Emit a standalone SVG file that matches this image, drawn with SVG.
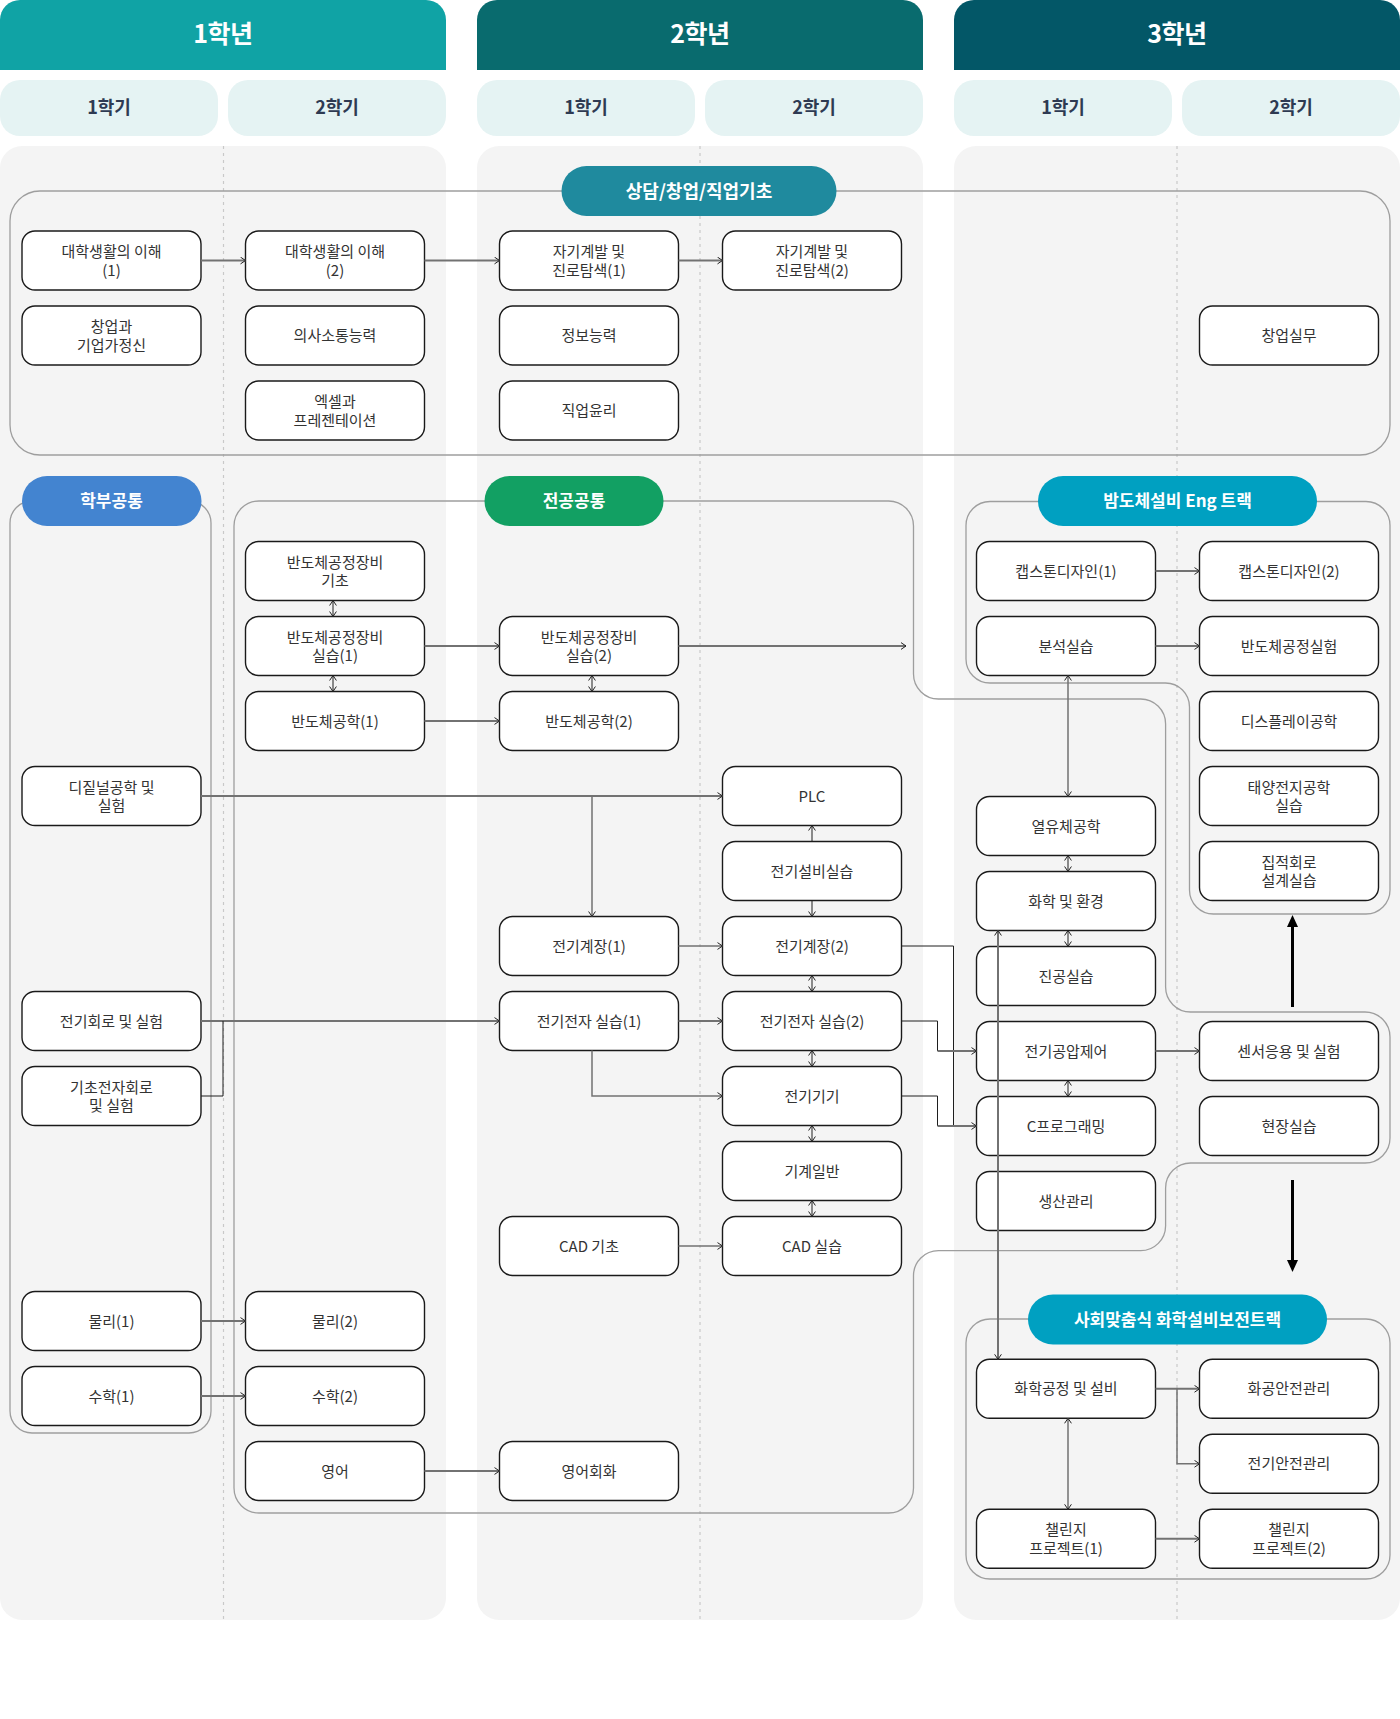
<svg xmlns="http://www.w3.org/2000/svg" width="1400" height="1719" viewBox="0 0 1400 1719">
<defs>
<style>
.panel{fill:#F4F4F4}
.div{stroke:#C9C9C9;stroke-width:1.2;stroke-dasharray:3 4;fill:none}
.sem rect{fill:#E5F3F3}
.sem text{font-family:"Noto Sans CJK KR","Noto Sans",sans-serif;font-size:18px;font-weight:700;fill:#2E3A52;text-anchor:middle}
.yr text{font-family:"Noto Sans CJK KR","Noto Sans",sans-serif;font-size:25px;font-weight:700;fill:#fff;text-anchor:middle;letter-spacing:-0.5px}
.grp{fill:none;stroke:#9E9E9E;stroke-width:1.3}
.pill text{font-family:"Noto Sans CJK KR","Noto Sans",sans-serif;font-size:17px;font-weight:700;fill:#fff;text-anchor:middle}
.node rect{fill:#fff;stroke:#1A1A1A;stroke-width:1.4}
.node text{font-family:"Noto Sans CJK KR","Noto Sans",sans-serif;font-size:15px;fill:#333;text-anchor:middle}
.g{fill:none;stroke:#727272;stroke-width:2}
.gt{fill:none;stroke:#727272;stroke-width:1.5}
.k{fill:none;stroke:#1E1E1E;stroke-width:1}
</style>
<marker id="ah" viewBox="0 0 6 8" refX="5.5" refY="4" markerWidth="6" markerHeight="8" orient="auto-start-reverse" markerUnits="userSpaceOnUse">
<path d="M0.5,0.6 L5.5,4 L0.5,7.4" fill="none" stroke="#222" stroke-width="1"/>
</marker>
</defs>

<g id="background">
<rect class="panel" x="0" y="146" width="446" height="1474" rx="22"/>
<rect class="panel" x="477" y="146" width="446" height="1474" rx="22"/>
<rect class="panel" x="954" y="146" width="446" height="1474" rx="22"/>
<line class="div" x1="223.5" y1="146" x2="223.5" y2="1620"/>
<line class="div" x1="700" y1="146" x2="700" y2="1620"/>
<line class="div" x1="1177" y1="146" x2="1177" y2="1620"/>
</g>

<g id="year-headers" class="yr">
<path d="M0,20 A20,20 0 0 1 20,0 H426 A20,20 0 0 1 446,20 V70 H0 Z" fill="#10A3A5"/>
<text x="223" y="43">1학년</text>
<path d="M477,20 A20,20 0 0 1 497,0 H903 A20,20 0 0 1 923,20 V70 H477 Z" fill="#096B6E"/>
<text x="700" y="43">2학년</text>
<path d="M954,20 A20,20 0 0 1 974,0 H1380 A20,20 0 0 1 1400,20 V70 H954 Z" fill="#035767"/>
<text x="1177" y="43">3학년</text>
</g>

<g id="semester-tabs" class="sem">
<rect x="0" y="80" width="218" height="56" rx="20"/><text x="109" y="114">1학기</text>
<rect x="228" y="80" width="218" height="56" rx="20"/><text x="337" y="114">2학기</text>
<rect x="477" y="80" width="218" height="56" rx="20"/><text x="586" y="114">1학기</text>
<rect x="705" y="80" width="218" height="56" rx="20"/><text x="814" y="114">2학기</text>
<rect x="954" y="80" width="218" height="56" rx="20"/><text x="1063" y="114">1학기</text>
<rect x="1182" y="80" width="218" height="56" rx="20"/><text x="1291" y="114">2학기</text>
</g>

<g id="group-outlines">
<rect class="grp" x="10" y="191" width="1380" height="264" rx="30"/>
<rect class="grp" x="10" y="501" width="201" height="932" rx="22"/>
<path class="grp" d="M484,501 L259,501 A25,25 0 0 0 234,526 L234,1488 A25,25 0 0 0 259,1513 L888.5,1513 A25,25 0 0 0 913.5,1488 L913.5,1275.7 A25,25 0 0 1 938.5,1250.7 L1140.6,1250.7 A25,25 0 0 0 1165.6,1225.7 L1165.6,1188 A25,25 0 0 1 1190.6,1163 L1365,1163 A25,25 0 0 0 1390,1138 L1390,1037 A25,25 0 0 0 1365,1012 L1190.6,1012 A25,25 0 0 1 1165.6,987 L1165.6,724 A25,25 0 0 0 1140.6,699 L938.5,699 A25,25 0 0 1 913.5,674 L913.5,526 A25,25 0 0 0 888.5,501 Z"/>
<path class="grp" d="M1038,501.5 L990,501.5 A24,24 0 0 0 966,525.5 L966,659 A24,24 0 0 0 990,683 L1165.5,683 A24,24 0 0 1 1189.5,707 L1189.5,890 A24,24 0 0 0 1213.5,914 L1366,914 A24,24 0 0 0 1390,890 L1390,525.5 A24,24 0 0 0 1366,501.5 Z"/>
<rect class="grp" x="966" y="1319" width="424" height="260" rx="24"/>
</g>

<g id="group-labels" class="pill">
<g id="pill-counsel"><rect x="561.5" y="166" width="275" height="50" rx="25" fill="#1F8A9E"/><text x="699" y="197.5" style="font-size:18px">상담/창업/직업기초</text></g>
<g id="pill-faculty"><rect x="22" y="476" width="179.5" height="50" rx="25" fill="#4384D0"/><text x="111.5" y="507">학부공통</text></g>
<g id="pill-major"><rect x="484.5" y="476" width="179" height="50" rx="25" fill="#12A063"/><text x="574" y="507">전공공통</text></g>
<g id="pill-semi"><rect x="1038" y="476" width="279" height="50" rx="25" fill="#00A0C1"/><text x="1177.5" y="507">밤도체설비 Eng 트랙</text></g>
<g id="pill-chem"><rect x="1028" y="1294.5" width="299" height="50" rx="25" fill="#00A0C1"/><text x="1177.5" y="1325.5">사회맞춤식 화학설비보전트랙</text></g>
</g>

<g id="nodes">
<g id="n-univ1" class="node"><rect x="22" y="231" width="179" height="59" rx="13"/><text><tspan x="111.5" y="257">대학생활의 이해</tspan><tspan x="111.5" y="275.5">(1)</tspan></text></g>
<g id="n-startup" class="node"><rect x="22" y="306" width="179" height="59" rx="13"/><text><tspan x="111.5" y="332">창업과</tspan><tspan x="111.5" y="350.5">기업가정신</tspan></text></g>
<g id="n-univ2" class="node"><rect x="245.5" y="231" width="179" height="59" rx="13"/><text><tspan x="335" y="257">대학생활의 이해</tspan><tspan x="335" y="275.5">(2)</tspan></text></g>
<g id="n-comm" class="node"><rect x="245.5" y="306" width="179" height="59" rx="13"/><text x="335" y="341">의사소통능력</text></g>
<g id="n-excel" class="node"><rect x="245.5" y="381" width="179" height="59" rx="13"/><text><tspan x="335" y="407">엑셀과</tspan><tspan x="335" y="425.5">프레젠테이션</tspan></text></g>
<g id="n-self1" class="node"><rect x="499.5" y="231" width="179" height="59" rx="13"/><text><tspan x="589" y="257">자기계발 및</tspan><tspan x="589" y="275.5">진로탐색(1)</tspan></text></g>
<g id="n-info" class="node"><rect x="499.5" y="306" width="179" height="59" rx="13"/><text x="589" y="341">정보능력</text></g>
<g id="n-ethics" class="node"><rect x="499.5" y="381" width="179" height="59" rx="13"/><text x="589" y="416">직업윤리</text></g>
<g id="n-self2" class="node"><rect x="722.5" y="231" width="179" height="59" rx="13"/><text><tspan x="812" y="257">자기계발 및</tspan><tspan x="812" y="275.5">진로탐색(2)</tspan></text></g>
<g id="n-startpractice" class="node"><rect x="1199.5" y="306" width="179" height="59" rx="13"/><text x="1289" y="341">창업실무</text></g>

<g id="n-digital" class="node"><rect x="22" y="766.5" width="179" height="59" rx="13"/><text><tspan x="111.5" y="792.5">디짙널공학 및</tspan><tspan x="111.5" y="811">실험</tspan></text></g>
<g id="n-circuit" class="node"><rect x="22" y="991.5" width="179" height="59" rx="13"/><text x="111.5" y="1026.5">전기회로 및 실험</text></g>
<g id="n-basicelec" class="node"><rect x="22" y="1066.5" width="179" height="59" rx="13"/><text><tspan x="111.5" y="1092.5">기초전자회로</tspan><tspan x="111.5" y="1111">및 실험</tspan></text></g>
<g id="n-phys1" class="node"><rect x="22" y="1291.5" width="179" height="59" rx="13"/><text x="111.5" y="1326.5">물리(1)</text></g>
<g id="n-math1" class="node"><rect x="22" y="1366.5" width="179" height="59" rx="13"/><text x="111.5" y="1401.5">수학(1)</text></g>

<g id="n-equipbasic" class="node"><rect x="245.5" y="541.5" width="179" height="59" rx="13"/><text><tspan x="335" y="567.5">반도체공정장비</tspan><tspan x="335" y="586">기초</tspan></text></g>
<g id="n-equip1" class="node"><rect x="245.5" y="616.5" width="179" height="59" rx="13"/><text><tspan x="335" y="642.5">반도체공정장비</tspan><tspan x="335" y="661">실습(1)</tspan></text></g>
<g id="n-semi1" class="node"><rect x="245.5" y="691.5" width="179" height="59" rx="13"/><text x="335" y="726.5">반도체공학(1)</text></g>
<g id="n-phys2" class="node"><rect x="245.5" y="1291.5" width="179" height="59" rx="13"/><text x="335" y="1326.5">물리(2)</text></g>
<g id="n-math2" class="node"><rect x="245.5" y="1366.5" width="179" height="59" rx="13"/><text x="335" y="1401.5">수학(2)</text></g>
<g id="n-eng" class="node"><rect x="245.5" y="1441.5" width="179" height="59" rx="13"/><text x="335" y="1476.5">영어</text></g>

<g id="n-equip2" class="node"><rect x="499.5" y="616.5" width="179" height="59" rx="13"/><text><tspan x="589" y="642.5">반도체공정장비</tspan><tspan x="589" y="661">실습(2)</tspan></text></g>
<g id="n-semi2" class="node"><rect x="499.5" y="691.5" width="179" height="59" rx="13"/><text x="589" y="726.5">반도체공학(2)</text></g>
<g id="n-inst1" class="node"><rect x="499.5" y="916.5" width="179" height="59" rx="13"/><text x="589" y="951.5">전기계장(1)</text></g>
<g id="n-eep1" class="node"><rect x="499.5" y="991.5" width="179" height="59" rx="13"/><text x="589" y="1026.5">전기전자 실습(1)</text></g>
<g id="n-cad1" class="node"><rect x="499.5" y="1216.5" width="179" height="59" rx="13"/><text x="589" y="1251.5">CAD 기초</text></g>
<g id="n-engconv" class="node"><rect x="499.5" y="1441.5" width="179" height="59" rx="13"/><text x="589" y="1476.5">영어회화</text></g>

<g id="n-plc" class="node"><rect x="722.5" y="766.5" width="179" height="59" rx="13"/><text x="812" y="801.5">PLC</text></g>
<g id="n-facility" class="node"><rect x="722.5" y="841.5" width="179" height="59" rx="13"/><text x="812" y="876.5">전기설비실습</text></g>
<g id="n-inst2" class="node"><rect x="722.5" y="916.5" width="179" height="59" rx="13"/><text x="812" y="951.5">전기계장(2)</text></g>
<g id="n-eep2" class="node"><rect x="722.5" y="991.5" width="179" height="59" rx="13"/><text x="812" y="1026.5">전기전자 실습(2)</text></g>
<g id="n-machine" class="node"><rect x="722.5" y="1066.5" width="179" height="59" rx="13"/><text x="812" y="1101.5">전기기기</text></g>
<g id="n-mech" class="node"><rect x="722.5" y="1141.5" width="179" height="59" rx="13"/><text x="812" y="1176.5">기계일반</text></g>
<g id="n-cad2" class="node"><rect x="722.5" y="1216.5" width="179" height="59" rx="13"/><text x="812" y="1251.5">CAD 실습</text></g>

<g id="n-cap1" class="node"><rect x="976.5" y="541.5" width="179" height="59" rx="13"/><text x="1066" y="576.5">캡스톤디자인(1)</text></g>
<g id="n-analysis" class="node"><rect x="976.5" y="616.5" width="179" height="59" rx="13"/><text x="1066" y="651.5">분석실습</text></g>
<g id="n-thermo" class="node"><rect x="976.5" y="796.5" width="179" height="59" rx="13"/><text x="1066" y="831.5">열유체공학</text></g>
<g id="n-chemenv" class="node"><rect x="976.5" y="871.5" width="179" height="59" rx="13"/><text x="1066" y="906.5">화학 및 환경</text></g>
<g id="n-vacuum" class="node"><rect x="976.5" y="946.5" width="179" height="59" rx="13"/><text x="1066" y="981.5">진공실습</text></g>
<g id="n-pneu" class="node"><rect x="976.5" y="1021.5" width="179" height="59" rx="13"/><text x="1066" y="1056.5">전기공압제어</text></g>
<g id="n-cprog" class="node"><rect x="976.5" y="1096.5" width="179" height="59" rx="13"/><text x="1066" y="1131.5">C프로그래밍</text></g>
<g id="n-prod" class="node"><rect x="976.5" y="1171.5" width="179" height="59" rx="13"/><text x="1066" y="1206.5">생산관리</text></g>

<g id="n-cap2" class="node"><rect x="1199.5" y="541.5" width="179" height="59" rx="13"/><text x="1289" y="576.5">캡스톤디자인(2)</text></g>
<g id="n-semilab" class="node"><rect x="1199.5" y="616.5" width="179" height="59" rx="13"/><text x="1289" y="651.5">반도체공정실험</text></g>
<g id="n-display" class="node"><rect x="1199.5" y="691.5" width="179" height="59" rx="13"/><text x="1289" y="726.5">디스플레이공학</text></g>
<g id="n-solar" class="node"><rect x="1199.5" y="766.5" width="179" height="59" rx="13"/><text><tspan x="1289" y="792.5">태양전지공학</tspan><tspan x="1289" y="811">실습</tspan></text></g>
<g id="n-ic" class="node"><rect x="1199.5" y="841.5" width="179" height="59" rx="13"/><text><tspan x="1289" y="867.5">집적회로</tspan><tspan x="1289" y="886">설계실습</tspan></text></g>
<g id="n-sensor" class="node"><rect x="1199.5" y="1021.5" width="179" height="59" rx="13"/><text x="1289" y="1056.5">센서응용 및 실험</text></g>
<g id="n-field" class="node"><rect x="1199.5" y="1096.5" width="179" height="59" rx="13"/><text x="1289" y="1131.5">현장실습</text></g>

<g id="n-chemproc" class="node"><rect x="976.5" y="1359.3" width="179" height="59" rx="13"/><text x="1066" y="1394.3">화학공정 및 설비</text></g>
<g id="n-chemsafe" class="node"><rect x="1199.5" y="1359.3" width="179" height="59" rx="13"/><text x="1289" y="1394.3">화공안전관리</text></g>
<g id="n-elecsafe" class="node"><rect x="1199.5" y="1434.3" width="179" height="59" rx="13"/><text x="1289" y="1469.3">전기안전관리</text></g>
<g id="n-chal1" class="node"><rect x="976.5" y="1509.3" width="179" height="59" rx="13"/><text><tspan x="1066" y="1535.3">챌린지</tspan><tspan x="1066" y="1553.8">프로젝트(1)</tspan></text></g>
<g id="n-chal2" class="node"><rect x="1199.5" y="1509.3" width="179" height="59" rx="13"/><text><tspan x="1289" y="1535.3">챌린지</tspan><tspan x="1289" y="1553.8">프로젝트(2)</tspan></text></g>
</g>

<g id="connectors">
<line class="g" x1="201" y1="260.5" x2="245.5" y2="260.5" marker-end="url(#ah)"/>
<line class="g" x1="424.5" y1="260.5" x2="499.5" y2="260.5" marker-end="url(#ah)"/>
<line class="g" x1="678.5" y1="260.5" x2="722.5" y2="260.5" marker-end="url(#ah)"/>
<line class="k" x1="333" y1="600.5" x2="333" y2="616.5" marker-start="url(#ah)" marker-end="url(#ah)"/>
<line class="k" x1="333" y1="675.5" x2="333" y2="691.5" marker-start="url(#ah)" marker-end="url(#ah)"/>
<line class="g" x1="424.5" y1="646" x2="499.5" y2="646" marker-end="url(#ah)"/>
<line class="g" x1="424.5" y1="721" x2="499.5" y2="721" marker-end="url(#ah)"/>
<line class="k" x1="592" y1="675.5" x2="592" y2="691.5" marker-start="url(#ah)" marker-end="url(#ah)"/>
<line class="g" x1="678.5" y1="646" x2="906" y2="646" marker-end="url(#ah)"/>
<line class="g" x1="201" y1="796" x2="722.5" y2="796" marker-end="url(#ah)"/>
<line class="gt" x1="592" y1="796" x2="592" y2="916.5" marker-end="url(#ah)"/>
<line class="k" x1="812" y1="841.5" x2="812" y2="825.5" marker-end="url(#ah)"/>
<line class="k" x1="812" y1="900.5" x2="812" y2="916.5" marker-end="url(#ah)"/>
<line class="gt" x1="678.5" y1="946" x2="722.5" y2="946" marker-end="url(#ah)"/>
<line class="k" x1="812" y1="975.5" x2="812" y2="991.5" marker-start="url(#ah)" marker-end="url(#ah)"/>
<line class="g" x1="201" y1="1021" x2="499.5" y2="1021" marker-end="url(#ah)"/>
<path class="k" d="M201,1096 H223 V1021"/>
<line class="g" x1="678.5" y1="1021" x2="722.5" y2="1021" marker-end="url(#ah)"/>
<path class="gt" d="M592,1050.5 V1096 H722.5" marker-end="url(#ah)"/>
<line class="k" x1="812" y1="1050.5" x2="812" y2="1066.5" marker-start="url(#ah)" marker-end="url(#ah)"/>
<line class="k" x1="812" y1="1125.5" x2="812" y2="1141.5" marker-start="url(#ah)" marker-end="url(#ah)"/>
<line class="k" x1="812" y1="1200.5" x2="812" y2="1216.5" marker-start="url(#ah)" marker-end="url(#ah)"/>
<line class="gt" x1="678.5" y1="1246" x2="722.5" y2="1246" marker-end="url(#ah)"/>
<path class="k" d="M901.5,946 H953.5 V1126"/>
<path class="k" d="M901.5,1021 H937.5 V1051"/>
<line class="g" x1="937.5" y1="1051" x2="976.5" y2="1051" marker-end="url(#ah)"/>
<path class="k" d="M901.5,1096 H937.5 V1126"/>
<line class="g" x1="937.5" y1="1126" x2="976.5" y2="1126" marker-end="url(#ah)"/>
<line class="g" x1="1155.5" y1="1051" x2="1199.5" y2="1051" marker-end="url(#ah)"/>
<line class="k" x1="1068" y1="1080.5" x2="1068" y2="1096.5" marker-start="url(#ah)" marker-end="url(#ah)"/>
<line class="g" x1="1155.5" y1="571" x2="1199.5" y2="571" marker-end="url(#ah)"/>
<line class="g" x1="1155.5" y1="646" x2="1199.5" y2="646" marker-end="url(#ah)"/>
<line class="gt" x1="1068" y1="675.5" x2="1068" y2="796.5" marker-start="url(#ah)" marker-end="url(#ah)"/>
<line class="k" x1="1068" y1="855.5" x2="1068" y2="871.5" marker-start="url(#ah)" marker-end="url(#ah)"/>
<line class="k" x1="1068" y1="930.5" x2="1068" y2="946.5" marker-start="url(#ah)" marker-end="url(#ah)"/>
<line class="g" x1="998" y1="930.5" x2="998" y2="1359.3" marker-start="url(#ah)" marker-end="url(#ah)"/>
<line class="g" x1="201" y1="1321" x2="245.5" y2="1321" marker-end="url(#ah)"/>
<line class="g" x1="201" y1="1396" x2="245.5" y2="1396" marker-end="url(#ah)"/>
<line class="g" x1="424.5" y1="1471" x2="499.5" y2="1471" marker-end="url(#ah)"/>
<line class="g" x1="1155.5" y1="1388.8" x2="1199.5" y2="1388.8" marker-end="url(#ah)"/>
<path class="gt" d="M1177,1388.8 V1463.8 H1199.5" marker-end="url(#ah)"/>
<line class="gt" x1="1068" y1="1418.3" x2="1068" y2="1509.3" marker-start="url(#ah)" marker-end="url(#ah)"/>
<line class="g" x1="1155.5" y1="1538.8" x2="1199.5" y2="1538.8" marker-end="url(#ah)"/>
<line x1="1292.5" y1="1007" x2="1292.5" y2="925" stroke="#000" stroke-width="3"/>
<polygon points="1292.5,915 1287,927 1298,927" fill="#000"/>
<line x1="1292.5" y1="1180" x2="1292.5" y2="1262" stroke="#000" stroke-width="3"/>
<polygon points="1292.5,1272 1287,1260 1298,1260" fill="#000"/>
</g>
</svg>
